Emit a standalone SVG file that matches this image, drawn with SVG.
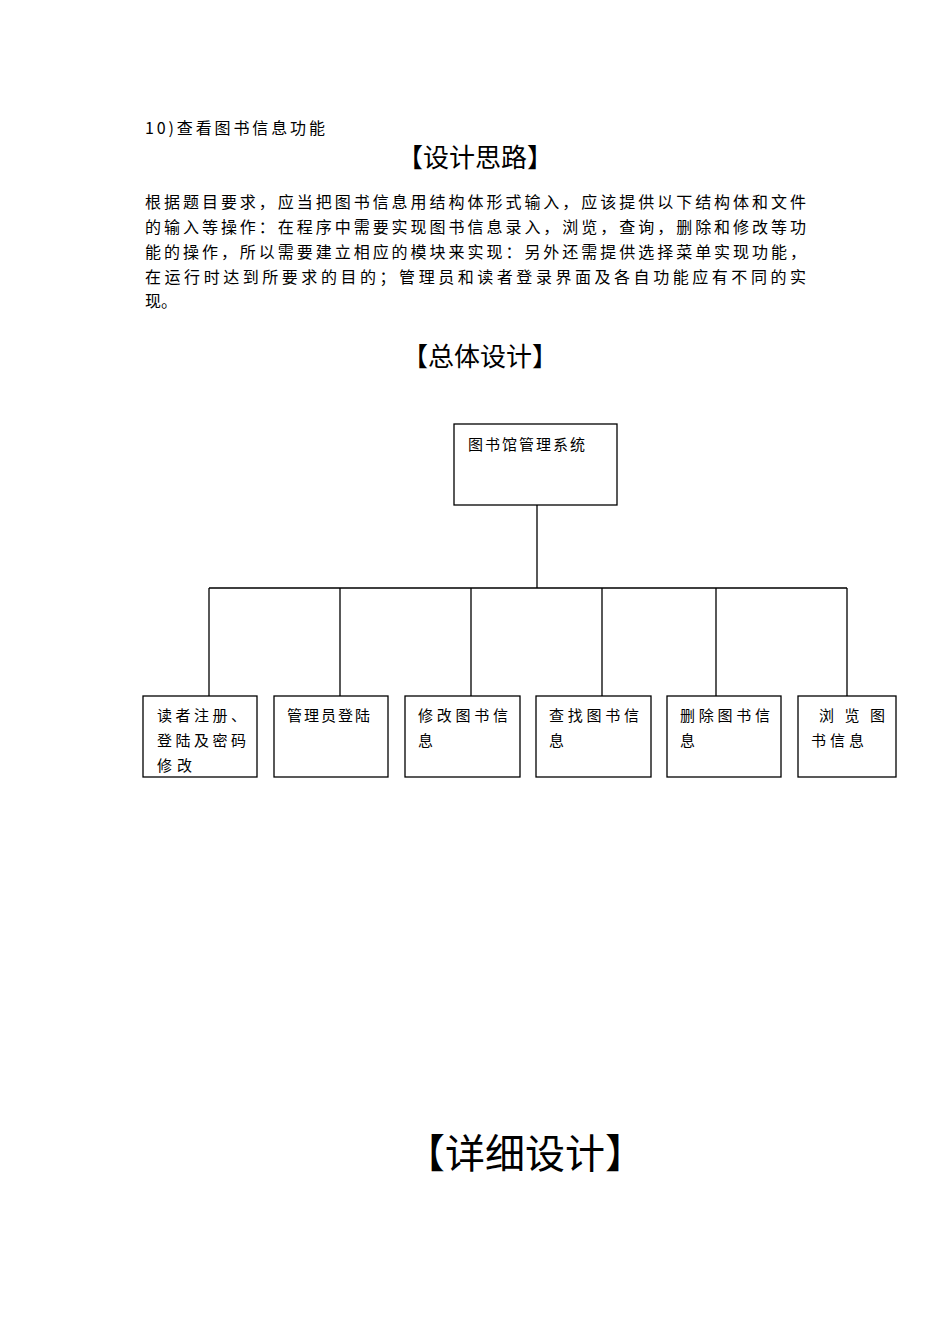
<svg xmlns="http://www.w3.org/2000/svg" width="950" height="1344" viewBox="0 0 950 1344">
<style>
text{font-family:"Noto Sans CJK SC","Liberation Sans",sans-serif;fill:#000}
.b{fill:#fff;stroke:#000;stroke-width:1.3}
.n{font-size:15px}
.p{font-size:16px}
.l{stroke:#000;stroke-width:1.3;fill:none}
</style>
<rect width="950" height="1344" fill="#fff"/>
<text x="145" y="134" class="p" textLength="180">10)查看图书信息功能</text>
<text x="475" y="167" font-size="26" text-anchor="middle">【设计思路】</text>
<text class="p" x="145" y="208" textLength="661">根据题目要求，应当把图书信息用结构体形式输入，应该提供以下结构体和文件</text>
<text class="p" x="145" y="233" textLength="661">的输入等操作：在程序中需要实现图书信息录入，浏览，查询，删除和修改等功</text>
<text class="p" x="145" y="258" textLength="661">能的操作，所以需要建立相应的模块来实现：另外还需提供选择菜单实现功能，</text>
<text class="p" x="145" y="283" textLength="661">在运行时达到所要求的目的；管理员和读者登录界面及各自功能应有不同的实</text>
<text class="p" x="145" y="307">现。</text>
<text x="480" y="366" font-size="26" text-anchor="middle">【总体设计】</text>
<g id="connectors">
<path class="l" d="M537 505V588M209 588H847M209 588V696M340 588V696M471 588V696M602 588V696M716 588V696M847 588V696"/>
</g>
<g id="root"><rect class="b" x="454" y="424" width="163" height="81"/><text class="n" x="468" y="450" textLength="117">图书馆管理系统</text></g>
<g id="n1"><rect class="b" x="143" y="696" width="114" height="81"/><text class="n" x="157" y="721" textLength="89">读者注册、</text><text class="n" x="157" y="746" textLength="89">登陆及密码</text><text class="n" x="157" y="771" textLength="35">修改</text></g>
<g id="n2"><rect class="b" x="274" y="696" width="114" height="81"/><text class="n" x="287" y="721" textLength="83">管理员登陆</text></g>
<g id="n3"><rect class="b" x="405" y="696" width="115" height="81"/><text class="n" x="418" y="721" textLength="90">修改图书信</text><text class="n" x="418" y="746">息</text></g>
<g id="n4"><rect class="b" x="536" y="696" width="115" height="81"/><text class="n" x="549" y="721" textLength="90">查找图书信</text><text class="n" x="549" y="746">息</text></g>
<g id="n5"><rect class="b" x="667" y="696" width="114" height="81"/><text class="n" x="680" y="721" textLength="90">删除图书信</text><text class="n" x="680" y="746">息</text></g>
<g id="n6"><rect class="b" x="798" y="696" width="98" height="81"/><text class="n" x="819" y="721" textLength="66">浏 览 图</text><text class="n" x="811" y="746" textLength="53">书信息</text></g>
<text x="525" y="1168" font-size="40" text-anchor="middle">【详细设计】</text>
</svg>
